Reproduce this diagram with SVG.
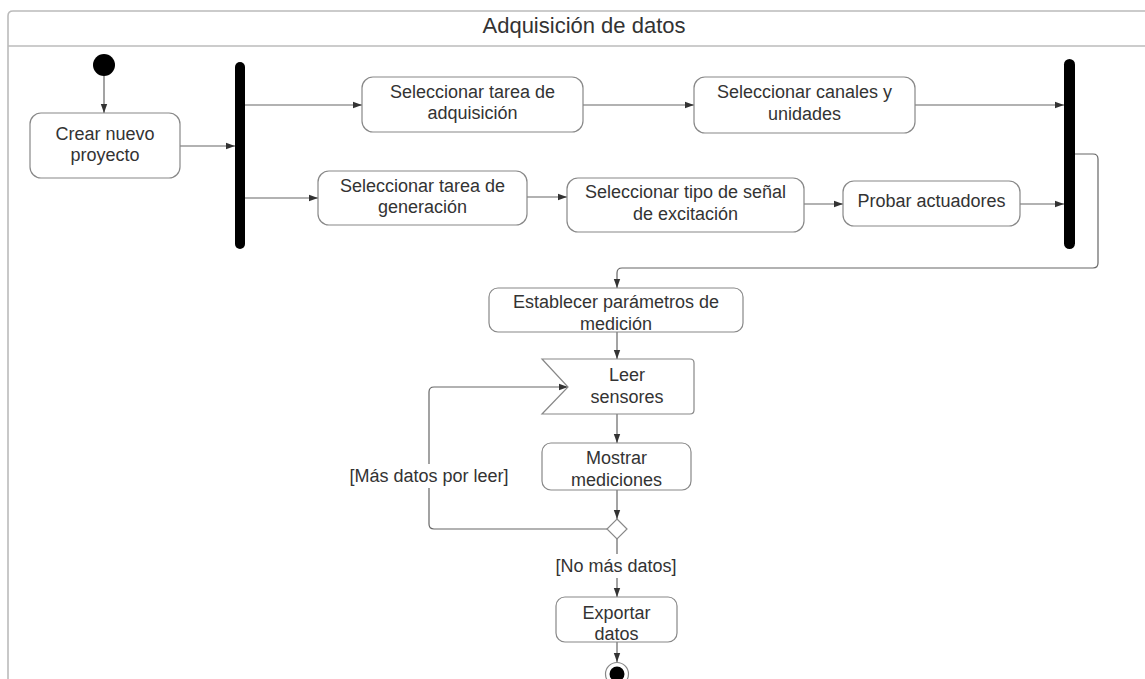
<svg xmlns="http://www.w3.org/2000/svg" width="1145" height="679" viewBox="0 0 1145 679">
<style>
.box{fill:#fff;stroke:#888;stroke-width:1.2}
.t{font-family:"Liberation Sans",Arial,sans-serif;font-size:18px;fill:#333;text-anchor:middle}
.title{font-size:22px}
.c{fill:none;stroke:#666;stroke-width:1.2}
.frame{fill:none;stroke:#bbb;stroke-width:1.6}
</style>
<defs>
<marker id="ah" markerUnits="userSpaceOnUse" markerWidth="9" markerHeight="8" refX="9" refY="4" orient="auto">
<path d="M0,0.8 L9,4 L0,7.2 Z" fill="#333"/>
</marker>
</defs>
<rect width="1145" height="679" fill="#fff"/>
<g id="frame">
<path class="frame" d="M1150,11 H13 Q8,11 8,16 V690"/>
<line class="frame" x1="8" y1="46" x2="1150" y2="46"/>
<text class="t title" x="584" y="33">Adquisición de datos</text>
</g>
<g id="connectors">
<line class="c" x1="104" y1="76" x2="104" y2="113" marker-end="url(#ah)"/>
<line class="c" x1="180" y1="146" x2="235" y2="146" marker-end="url(#ah)"/>
<line class="c" x1="245" y1="105" x2="362" y2="105" marker-end="url(#ah)"/>
<line class="c" x1="245" y1="198" x2="318" y2="198" marker-end="url(#ah)"/>
<line class="c" x1="583" y1="105" x2="694" y2="105" marker-end="url(#ah)"/>
<line class="c" x1="915" y1="105" x2="1064" y2="105" marker-end="url(#ah)"/>
<line class="c" x1="527" y1="197" x2="567" y2="197" marker-end="url(#ah)"/>
<line class="c" x1="804" y1="204" x2="843" y2="204" marker-end="url(#ah)"/>
<line class="c" x1="1020" y1="204" x2="1064" y2="204" marker-end="url(#ah)"/>
<path class="c" d="M1075,154 H1093 Q1098,154 1098,159 V263 Q1098,268 1093,268 H622 Q617,268 617,273 V288" marker-end="url(#ah)"/>
<line class="c" x1="617" y1="332" x2="617" y2="359" marker-end="url(#ah)"/>
<line class="c" x1="617" y1="414" x2="617" y2="443" marker-end="url(#ah)"/>
<line class="c" x1="617" y1="490" x2="617" y2="519" marker-end="url(#ah)"/>
<path class="c" d="M607,529 H434 Q429,529 429,524 V392 Q429,387 434,387 H568" marker-end="url(#ah)"/>
<line class="c" x1="617" y1="538" x2="617" y2="597" marker-end="url(#ah)"/>
<line class="c" x1="617" y1="642" x2="617" y2="662" marker-end="url(#ah)"/>
<g id="label-mas">
<rect x="345" y="464" width="168" height="24" fill="#fff"/>
<text class="t" x="429" y="482">[Más datos por leer]</text>
</g>
<g id="label-nomas">
<rect x="553" y="554" width="126" height="24" fill="#fff"/>
<text class="t" x="616" y="572">[No más datos]</text>
</g>
</g>
<g id="start"><circle cx="104" cy="65" r="11" fill="#000"/></g>
<g id="crear">
<rect class="box" x="30" y="113" width="150" height="65" rx="11"/>
<text class="t" x="105" y="140">Crear nuevo</text>
<text class="t" x="105" y="161">proyecto</text>
</g>
<g id="fork"><rect x="235" y="62" width="10" height="187" rx="5" fill="#000"/></g>
<g id="sel-adq">
<rect class="box" x="362" y="77" width="221" height="55" rx="11"/>
<text class="t" x="472.5" y="98">Seleccionar tarea de</text>
<text class="t" x="472.5" y="119">adquisición</text>
</g>
<g id="sel-canales">
<rect class="box" x="694" y="77" width="221" height="56" rx="11"/>
<text class="t" x="804.5" y="98">Seleccionar canales y</text>
<text class="t" x="804.5" y="120">unidades</text>
</g>
<g id="sel-gen">
<rect class="box" x="318" y="171" width="209" height="54" rx="11"/>
<text class="t" x="422.5" y="192">Seleccionar tarea de</text>
<text class="t" x="422.5" y="213">generación</text>
</g>
<g id="sel-tipo">
<rect class="box" x="567" y="178" width="237" height="54" rx="11"/>
<text class="t" x="685.5" y="198">Seleccionar tipo de señal</text>
<text class="t" x="685.5" y="220">de excitación</text>
</g>
<g id="probar">
<rect class="box" x="843" y="181" width="177" height="45" rx="11"/>
<text class="t" x="931.5" y="207">Probar actuadores</text>
</g>
<g id="join"><rect x="1064" y="59" width="11" height="190" rx="5.5" fill="#000"/></g>
<g id="establecer">
<rect class="box" x="489" y="288" width="254" height="44" rx="9"/>
<text class="t" x="616" y="308">Establecer parámetros de</text>
<text class="t" x="616" y="330">medición</text>
</g>
<g id="leer">
<path class="box" d="M542,359 H690 Q694,359 694,363 V410 Q694,414 690,414 H542 L568,387 Z"/>
<text class="t" x="627" y="381">Leer</text>
<text class="t" x="627" y="403">sensores</text>
</g>
<g id="mostrar">
<rect class="box" x="542" y="443" width="149" height="47" rx="9"/>
<text class="t" x="616.5" y="464">Mostrar</text>
<text class="t" x="616.5" y="486">mediciones</text>
</g>
<g id="decision">
<path class="box" d="M617,519 L627,529 L617,539 L607,529 Z"/>
</g>
<g id="exportar">
<rect class="box" x="556" y="597" width="121" height="45" rx="9"/>
<text class="t" x="616.5" y="619">Exportar</text>
<text class="t" x="616.5" y="640">datos</text>
</g>
<g id="end">
<circle cx="617" cy="674" r="11.5" fill="#fff" stroke="#888" stroke-width="1.2"/>
<circle cx="617" cy="674" r="7.5" fill="#000"/>
</g>
</svg>
